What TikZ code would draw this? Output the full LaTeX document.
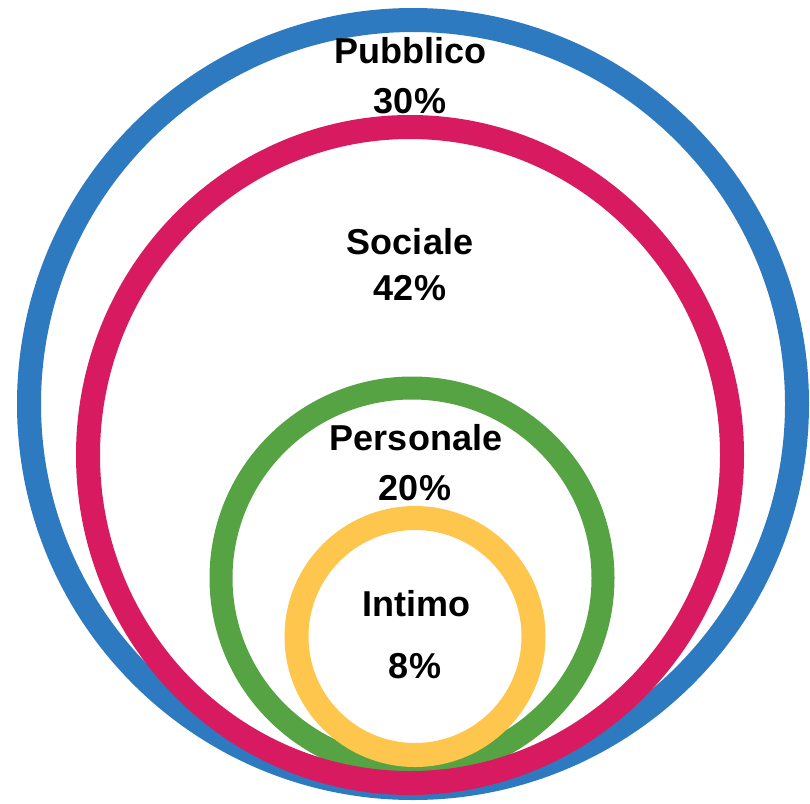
\documentclass[tikz,border=0pt]{standalone}
\usepackage{fontspec}
\setmainfont{Liberation Sans}
\definecolor{zonablu}{HTML}{2E7AC0}
\definecolor{zonarossa}{HTML}{D81B60}
\definecolor{zonaverde}{HTML}{56A343}
\definecolor{zonagialla}{HTML}{FEC64C}
\tikzset{
  zona/.style={line width=24pt},
  etichetta/.style={anchor=base, inner sep=0pt, font=\fontsize{36}{40}\selectfont\bfseries},
}
\begin{document}
\begin{tikzpicture}[x=1pt, y=-1pt, line join=round, line cap=round]
\useasboundingbox (0,0) rectangle (810,803);
% cerchi delle zone
\draw[zona, zonablu] (413,404) circle[x radius=384pt, y radius=384pt];
\draw[zona, zonaverde, line width=23pt] (412,578) circle[x radius=191pt, y radius=190pt];
\draw[zona, zonagialla] (415,636.5) circle[x radius=118.5pt, y radius=118.5pt];
\draw[zona, zonarossa] (410,455) circle[x radius=322pt, y radius=328pt];
% etichette
\node[etichetta] (pub) at (410,63) {Pubblico};
\node[etichetta] (pubv) at (410,113) {30\%};
\node[etichetta] (soc) at (410,254) {Sociale};
\node[etichetta] (socv) at (410,300) {42\%};
\node[etichetta] (per) at (416,450) {Personale};
\node[etichetta] (perv) at (415,500) {20\%};
\node[etichetta] (int) at (416,616) {Intimo};
\node[etichetta] (intv) at (415,678) {8\%};
\end{tikzpicture}
\end{document}
